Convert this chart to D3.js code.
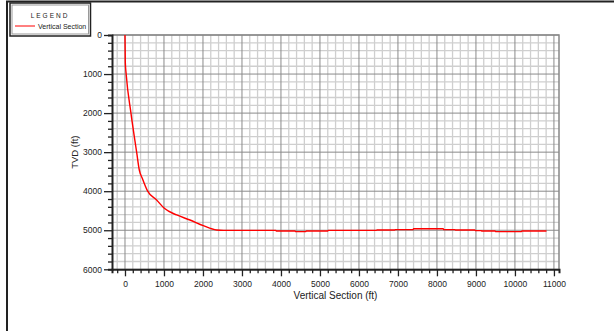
<!DOCTYPE html>
<html lang='en'>
    <head>
        <meta charset='utf-8'>
        <title>Vertical Section</title>
        <script src="https://d3js.org/d3.v7.min.js" charset='utf-8'></script>
        <style type='text/css'>
            body { margin: 0; background: #fff; }
            svg { display: block; font-family: 'Liberation Sans', Arial, sans-serif; }
        </style>
    </head>
    <body>
        <script type='text/javascript'>
            // well path
            var vs = [0, 8, 30, 153, 299, 367, 444, 581, 811, 1008, 1325, 1667, 2008, 2350, 2530,
                      3870, 3880, 4360, 4370, 4640, 4650, 5200, 5210, 6450, 6460, 6920, 6930, 7390,
                      7400, 8160, 8170, 8460, 8470, 8970, 8980, 9140, 9150, 9490, 9500, 10170, 10180, 10810];
            var tvd = [0, 700, 1000, 2000, 3000, 3457, 3670, 4000, 4225, 4439, 4609, 4737, 4883, 4994, 5002,
                       5002, 5020, 5020, 5036, 5036, 5020, 5020, 5002, 5002, 4993, 4993, 4985, 4985,
                       4960, 4960, 4985, 4985, 4993, 4993, 5010, 5010, 5020, 5020, 5036, 5036, 5020, 5020];
            var xTicks = d3.range(0, 11001, 1000);
            var yTicks = d3.range(0, 6001, 1000);
            var seriesName = 'Vertical Section';

            var width = 614, height = 331;
            var svg = d3.select('body').append('svg')
                .attr('width', width)
                .attr('height', height);

            var x = d3.scaleLinear().domain([-333, 11130]).range([112, 559]);
            var y = d3.scaleLinear().domain([0, 6000]).range([35, 269.3]);

            // page frame (legend sits over its corner)
            svg.append('path')
                .attr('d', 'M7,' + height + ' L7,1.5 L' + width + ',1.5')
                .attr('fill', 'none')
                .attr('stroke', '#222')
                .attr('stroke-width', 2);

            // minor grid every 200
            var minorX = d3.range(-200, 11001, 200).filter(function(d) { return d % 1000 !== 0; });
            var minorY = d3.range(0, 6001, 200).filter(function(d) { return d % 1000 !== 0; });
            svg.append('g').selectAll('line').data(minorX).join('line')
                .attr('x1', function(d) { return x(d); }).attr('x2', function(d) { return x(d); })
                .attr('y1', y(0)).attr('y2', y(6000))
                .attr('stroke', '#cfcfcf').attr('stroke-width', 1.3);
            svg.append('g').selectAll('line').data(minorY).join('line')
                .attr('y1', function(d) { return y(d); }).attr('y2', function(d) { return y(d); })
                .attr('x1', x.range()[0]).attr('x2', x.range()[1])
                .attr('stroke', '#cfcfcf').attr('stroke-width', 1.3);
            // major grid
            svg.append('g').selectAll('line').data(xTicks).join('line')
                .attr('x1', function(d) { return x(d); }).attr('x2', function(d) { return x(d); })
                .attr('y1', y(0)).attr('y2', y(6000))
                .attr('stroke', '#8a8a8a').attr('stroke-width', 1);
            svg.append('g').selectAll('line').data(yTicks).join('line')
                .attr('y1', function(d) { return y(d); }).attr('y2', function(d) { return y(d); })
                .attr('x1', x.range()[0]).attr('x2', x.range()[1])
                .attr('stroke', '#8a8a8a').attr('stroke-width', 1);

            // plot frame right/top
            svg.append('path')
                .attr('d', 'M' + x.range()[0] + ',' + y(0) + ' L' + x.range()[1] + ',' + y(0) + ' L' + x.range()[1] + ',' + y(6000))
                .attr('fill', 'none').attr('stroke', '#888').attr('stroke-width', 1.5);

            // axes
            var yAxis = d3.axisLeft(y).tickValues(d3.range(0, 6001, 200)).tickSize(4)
                .tickFormat(function(d) { return d % 1000 === 0 ? d : ''; });
            var gy = svg.append('g').attr('transform', 'translate(' + x.range()[0] + ',0)').call(yAxis);
            var xAxis = d3.axisBottom(x).tickValues(d3.range(-200, 11001, 200)).tickSize(4)
                .tickFormat(function(d) { return d % 1000 === 0 ? d : ''; });
            var gx = svg.append('g').attr('transform', 'translate(0,' + y.range()[1] + ')').call(xAxis);

            [gx, gy].forEach(function(g) {
                g.attr('font-family', null).attr('font-size', 8.5);
                g.select('.domain').attr('stroke', '#222').attr('stroke-width', 2);
                g.selectAll('.tick line').attr('stroke', '#222').attr('stroke-width', 1.3);
                g.selectAll('.tick text').attr('fill', '#222');
            });
            gy.selectAll('.tick').filter(function(d) { return d % 1000 === 0; }).select('line').attr('x2', -8);
            gy.selectAll('.tick text').attr('x', -10);
            gx.selectAll('.tick').filter(function(d) { return d % 1000 === 0; }).select('line').attr('y2', 7);
            gx.selectAll('.tick text').attr('y', 12);

            // axis titles
            svg.append('text')
                .attr('transform', 'translate(78,' + (y(3000)) + ') rotate(-90)')
                .attr('text-anchor', 'middle')
                .attr('font-size', 9.5).attr('fill', '#222')
                .text('TVD (ft)');
            svg.append('text')
                .attr('x', (x.range()[0] + x.range()[1]) / 2)
                .attr('y', 299)
                .attr('text-anchor', 'middle')
                .attr('font-size', 10).attr('fill', '#222')
                .text('Vertical Section (ft)');

            // the well path
            var pts = vs.map(function(d, i) { return [d, tvd[i]]; });
            svg.append('path')
                .datum(pts)
                .attr('d', d3.line().curve(d3.curveMonotoneX)
                    .x(function(d) { return x(d[0]); }).y(function(d) { return y(d[1]); }))
                .attr('fill', 'none')
                .attr('stroke', '#ff0000')
                .attr('stroke-width', 1.4);

            // legend
            var lg = svg.append('g');
            lg.append('rect').attr('x', 10).attr('y', 3).attr('width', 80.5).attr('height', 33)
                .attr('fill', '#fff').attr('stroke', '#222').attr('stroke-width', 1.5);
            lg.append('rect').attr('x', 12).attr('y', 5).attr('width', 76.5).attr('height', 29)
                .attr('fill', 'none').attr('stroke', '#999').attr('stroke-width', 1);
            lg.append('text').attr('x', 50).attr('y', 18)
                .attr('text-anchor', 'middle')
                .attr('font-size', 6.5).attr('letter-spacing', 2).attr('fill', '#222')
                .text('LEGEND');
            lg.append('line').attr('x1', 15).attr('x2', 35).attr('y1', 26).attr('y2', 26)
                .attr('stroke', '#ff0000').attr('stroke-width', 1);
            lg.append('text').attr('x', 38).attr('y', 28.5)
                .attr('font-size', 7).attr('fill', '#222')
                .text(seriesName);
        </script>
    </body>
</html>
